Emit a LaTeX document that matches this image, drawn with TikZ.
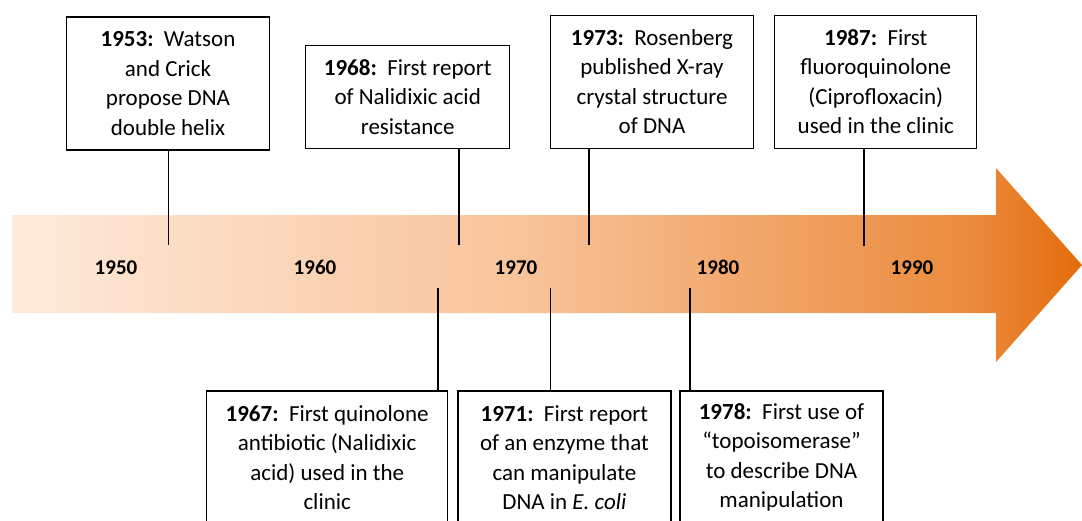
\documentclass[tikz,border=0pt]{standalone}
\usepackage{fontspec}
\setmainfont{Carlito}
\definecolor{shadeA}{HTML}{FDEADB}
\definecolor{shadeB}{HTML}{F8C49B}
\definecolor{shadeC}{HTML}{EB8A3C}
\definecolor{shadeD}{HTML}{E36C0A}
\pgfdeclarehorizontalshading{timeline}{100bp}{color(0bp)=(shadeA); color(25bp)=(shadeA); color(48.5bp)=(shadeB); color(70bp)=(shadeC); color(75bp)=(shadeD); color(100bp)=(shadeD)}
\tikzset{
  event/.style={draw=black, line width=1.2pt, fill=white, align=center, inner sep=0pt,
    font=\fontsize{23}{29.5}\selectfont, minimum height=133pt},
  year/.style={anchor=base, font=\fontsize{21}{25}\selectfont\bfseries},
  stem/.style={line width=1.2pt}
}

\begin{document}
\begin{tikzpicture}[x=1pt,y=-1pt]%
\useasboundingbox (0,0) rectangle (1082,520);%
\clip (0,0) rectangle (1082,520);%
% the arrow
\path[shading=timeline] (12,215) -- (996,215) -- (996,168) -- (1082,265) -- (996,362) -- (996,313) -- (12,313) -- cycle;%
% decades
\node[year] (y1950) at (116,274.5) {1950};%
\node[year] (y1960) at (315,274.5) {1960};%
\node[year] (y1970) at (516,274.5) {1970};%
\node[year] (y1980) at (718,274.5) {1980};%
\node[year] (y1990) at (912,274.5) {1990};%
% events above
\node[event, minimum width=203pt] (e1953) at (168,83.5) {\textbf{1953:}\ \ Watson\\and Crick\\propose DNA\\double helix};%
\node[event, minimum width=204pt, minimum height=103pt] (e1968) at (407.7,96.7) {\textbf{1968:}\ \ First report\\of Nalidixic acid\\resistance};%
\node[event, minimum width=203pt] (e1973) at (652,81.7) {\textbf{1973:}\ \ Rosenberg\\published X-ray\\crystal structure\\of DNA};%
\node[event, minimum width=202pt] (e1987) at (875.8,81.7) {\textbf{1987:}\ \ First\\fluoroquinolone\\(Ciprofloxacin)\\used in the clinic};%
% events below
\node[event, minimum width=241pt] (e1967) at (327.2,457.5) {\textbf{1967:}\ \ First quinolone\\antibiotic (Nalidixic\\acid) used in the\\clinic};%
\node[event, minimum width=213pt] (e1971) at (564.4,457.5) {\textbf{1971:}\ \ First report\\of an enzyme that\\can manipulate\\DNA in \textit{E. coli}};%
\node[event, minimum width=203pt] (e1978) at (781.5,457.5) {\textbf{1978:}\ \ First use of\\“topoisomerase”\\to describe DNA\\manipulation};%
% stems
\coordinate (t1953) at (168.4,245);%
\coordinate (t1968) at (459,245);%
\coordinate (t1973) at (589,245);%
\coordinate (t1987) at (864,246);%
\coordinate (t1967) at (438,288);%
\coordinate (t1971) at (550.4,288);%
\coordinate (t1978) at (690,288);%
\draw[stem] (e1953.south -| t1953) -- (t1953);%
\draw[stem] (e1968.south -| t1968) -- (t1968);%
\draw[stem] (e1973.south -| t1973) -- (t1973);%
\draw[stem] (e1987.south -| t1987) -- (t1987);%
\draw[stem] (t1967) -- (t1967 |- e1967.north);%
\draw[stem] (t1971) -- (t1971 |- e1971.north);%
\draw[stem] (t1978) -- (t1978 |- e1978.north);%
\end{tikzpicture}
\end{document}
